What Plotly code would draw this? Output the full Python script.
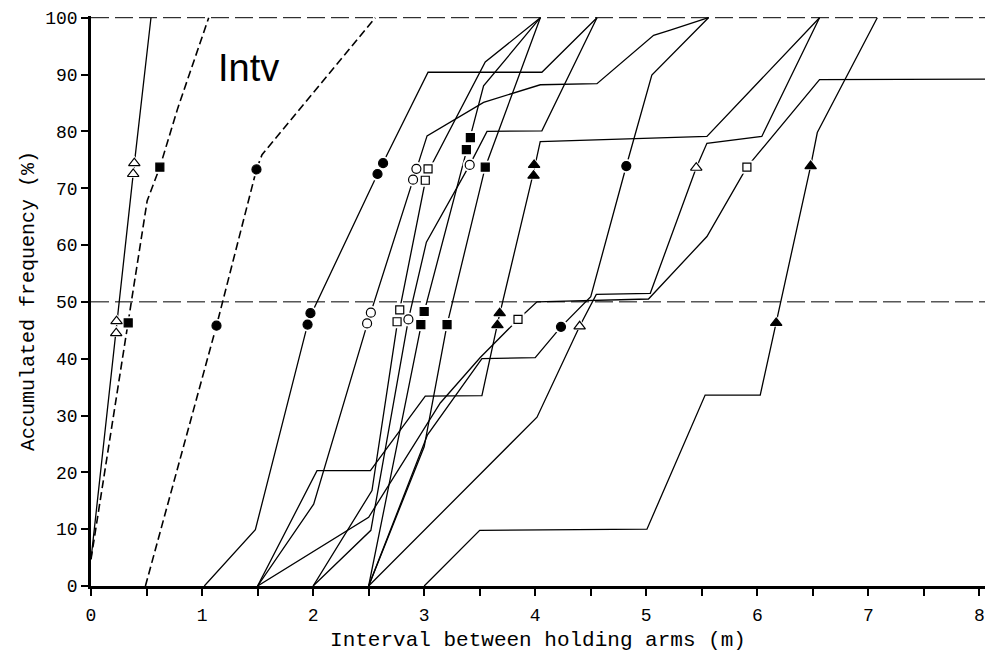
import plotly.graph_objects as go

# ---- accumulated-frequency curves: interval (m) vs cumulative % ----
# left group (steep curves near the origin)
tri_open_a_x = [0.0, 0.228, 0.385, 0.54]
tri_open_a_y = [4.7, 45.5, 73.4, 100]
sq_fill_a_x = [0.0, 0.335, 0.506, 0.62, 0.78, 1.06]
sq_fill_a_y = [4.7, 46.3, 67.8, 73.7, 84.0, 100]
circ_fill_a_x = [0.49, 1.13, 1.49, 1.54, 2.56]
circ_fill_a_y = [0, 45.8, 73.3, 75.9, 100]

# middle group (paired symbols)
circ_fill_b_x = [1.02, 1.48, 1.963, 2.605, 3.035, 4.06, 4.556]
circ_fill_b_y = [0, 9.9, 47.0, 73.5, 90.4, 90.4, 100]
circ_open_b_x = [1.5, 2.005, 2.503, 2.915, 3.026, 3.535, 4.046, 4.556, 5.066, 5.216, 5.56]
circ_open_b_y = [0, 14.4, 47.1, 72.5, 79.2, 85.1, 88.2, 88.4, 96.9, 97.8, 100]
sq_open_b_x = [2.0, 2.53, 2.768, 3.022, 3.55, 4.046]
sq_open_b_y = [0, 16.8, 47.5, 72.4, 92.2, 100]
sq_fill_b_x = [2.5, 2.985, 3.398, 3.535, 4.046]
sq_fill_b_y = [0, 47.1, 77.8, 88.0, 100]
tri_fill_b_x = [1.5, 2.035, 2.516, 3.01, 3.52, 3.67, 3.988, 4.045, 5.546, 6.56]
tri_fill_b_y = [0, 20.3, 20.3, 33.4, 33.5, 47.0, 73.1, 78.2, 79.1, 100]

# right group (single symbols)
circ_open_c_x = [2.0, 2.52, 2.858, 3.02, 3.41, 3.566, 4.06, 4.556]
circ_open_c_y = [0, 9.8, 46.9, 60.5, 74.1, 80.0, 80.1, 100]
sq_fill_c_x = [2.5, 3.0, 3.206, 3.55, 4.046]
sq_fill_c_y = [0, 24.5, 46.0, 73.7, 100]
sq_open_c_x = [1.5, 2.5, 3.145, 3.505, 3.845, 4.016, 5.02, 5.546, 5.906, 6.56, 8.05]
sq_open_c_y = [0, 12.1, 32.2, 40.2, 46.9, 50.0, 50.5, 61.5, 73.7, 89.1, 89.2]
circ_fill_c_x = [2.5, 3.03, 3.52, 4.0, 4.232, 4.50, 4.82, 5.05, 5.56]
circ_fill_c_y = [0, 26.6, 40.0, 40.2, 45.6, 50.9, 73.9, 89.9, 100]
tri_open_c_x = [2.5, 4.016, 4.40, 4.55, 5.036, 5.45, 5.546, 6.04, 6.56]
tri_open_c_y = [0, 29.7, 45.7, 51.3, 51.5, 73.6, 77.9, 79.1, 100]
tri_fill_c_x = [3.0, 3.5, 5.006, 5.53, 6.026, 6.17, 6.48, 6.54, 7.08]
tri_fill_c_y = [0, 9.8, 10.0, 33.6, 33.6, 46.3, 73.9, 79.8, 100]

# ---- symbols at the 50 % and 75 % points ----
tri_open_mx = [0.227, 0.23, 0.38, 0.39, 4.40, 5.45]
tri_open_my = [44.5, 46.6, 72.5, 74.4, 45.7, 73.6]
sq_fill_mx = [0.335, 0.62, 2.97, 3.0, 3.38, 3.416, 3.206, 3.55]
sq_fill_my = [46.3, 73.7, 46.0, 48.3, 76.8, 78.9, 46.0, 73.7]
circ_fill_mx = [1.13, 1.49, 1.95, 1.976, 2.58, 2.63, 4.232, 4.82]
circ_fill_my = [45.8, 73.3, 46.0, 48.0, 72.5, 74.4, 45.6, 73.9]
circ_open_mx = [2.486, 2.52, 2.90, 2.93, 2.858, 3.41]
circ_open_my = [46.2, 48.1, 71.5, 73.4, 46.9, 74.1]
sq_open_mx = [2.756, 2.78, 3.01, 3.035, 3.845, 5.906]
sq_open_my = [46.5, 48.6, 71.4, 73.4, 46.9, 73.7]
tri_fill_mx = [3.66, 3.68, 3.985, 3.99, 6.17, 6.48]
tri_fill_my = [45.9, 48.0, 72.2, 74.1, 46.3, 73.9]

ref_levels = [50, 100]
x_ticks = [0, 1, 2, 3, 4, 5, 6, 7, 8]
y_ticks = [0, 10, 20, 30, 40, 50, 60, 70, 80, 90, 100]
panel_label = "Intv"

MONO = "Courier New, Liberation Mono, monospace"

curves = [
    (tri_open_a_x, tri_open_a_y, "solid"),
    (sq_fill_a_x, sq_fill_a_y, "8px,4px"),
    (circ_fill_a_x, circ_fill_a_y, "8px,4px"),
    (circ_fill_b_x, circ_fill_b_y, "solid"),
    (circ_open_b_x, circ_open_b_y, "solid"),
    (sq_open_b_x, sq_open_b_y, "solid"),
    (sq_fill_b_x, sq_fill_b_y, "solid"),
    (tri_fill_b_x, tri_fill_b_y, "solid"),
    (circ_open_c_x, circ_open_c_y, "solid"),
    (sq_fill_c_x, sq_fill_c_y, "solid"),
    (sq_open_c_x, sq_open_c_y, "solid"),
    (circ_fill_c_x, circ_fill_c_y, "solid"),
    (tri_open_c_x, tri_open_c_y, "solid"),
    (tri_fill_c_x, tri_fill_c_y, "solid"),
]

# symbol, x, y, filled?, size
symbols = [
    ("triangle-up", tri_open_mx, tri_open_my, False, 10),
    ("square", sq_fill_mx, sq_fill_my, True, 8),
    ("circle", circ_fill_mx, circ_fill_my, True, 9),
    ("circle", circ_open_mx, circ_open_my, False, 9),
    ("square", sq_open_mx, sq_open_my, False, 8),
    ("triangle-up", tri_fill_mx, tri_fill_my, True, 10),
]

fig = go.Figure()

for lvl in ref_levels:
    fig.add_hline(y=lvl, line=dict(color="black", width=1, dash="18px,6px"), layer="below")

for xs, ys, dash in curves:
    fig.add_trace(go.Scatter(
        x=xs, y=ys, mode="lines",
        line=dict(color="black", width=1.3 if dash == "solid" else 1.6, dash=dash),
        hoverinfo="skip",
    ))

# white halo under every symbol breaks the lines around it
for sym, xs, ys, filled, size in symbols:
    fig.add_trace(go.Scatter(
        x=xs, y=ys, mode="markers",
        marker=dict(symbol=sym, size=size + 5, color="white", line=dict(width=0)),
        hoverinfo="skip",
    ))

for sym, xs, ys, filled, size in symbols:
    fig.add_trace(go.Scatter(
        x=xs, y=ys, mode="markers",
        marker=dict(symbol=sym, size=size,
                    color="black" if filled else "white",
                    line=dict(color="black", width=1.2)),
        hoverinfo="skip",
    ))

fig.add_annotation(
    x=1.42, y=91.1, xref="x", yref="y", text=panel_label, showarrow=False,
    font=dict(family="Liberation Sans, Arial, sans-serif", size=38, color="black"),
)

fig.update_layout(
    width=989, height=653,
    margin=dict(l=91, r=4, t=16, b=67),
    plot_bgcolor="white", paper_bgcolor="white",
    showlegend=False,
    xaxis=dict(
        range=[0, 8.05], tickvals=x_ticks, ticks="outside", ticklen=7, tickwidth=1.5,
        tickcolor="black", showline=True, linewidth=2.5, linecolor="black",
        showgrid=False, zeroline=False, ticklabelstandoff=4,
        minor=dict(tick0=0, dtick=0.5, ticks="outside", ticklen=7, tickwidth=1.5, tickcolor="black"),
        tickfont=dict(family=MONO, size=18, color="black"),
        title=dict(text="Interval between holding arms (m)", standoff=6,
                   font=dict(family=MONO, size=21, color="black")),
    ),
    yaxis=dict(
        range=[0, 100.3], tickvals=y_ticks, ticks="outside", ticklen=7, tickwidth=1.5,
        tickcolor="black", showline=True, linewidth=2.5, linecolor="black",
        showgrid=False, zeroline=False,
        tickfont=dict(family=MONO, size=18, color="black"),
        title=dict(text="Accumulated frequency (%)", standoff=6,
                   font=dict(family=MONO, size=20, color="black")),
    ),
)

fig.write_html("out.html")
